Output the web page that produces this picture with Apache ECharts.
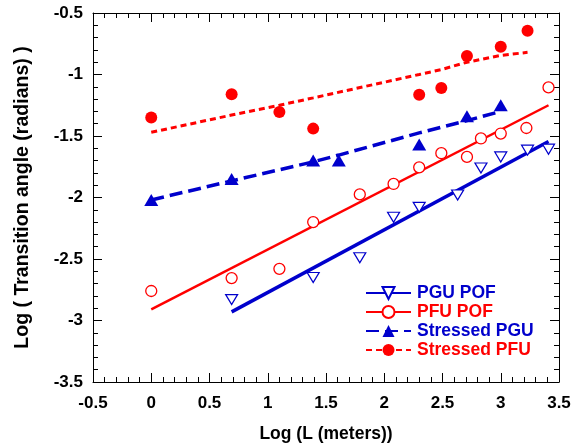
<!DOCTYPE html>
<html>
<head>
<meta charset="utf-8">
<script src="https://cdn.jsdelivr.net/npm/echarts/dist/echarts.min.js"></script>
<style>
  html, body { margin: 0; padding: 0; background: #fff; }
  #chart { width: 582px; height: 448px; }
</style>
</head>
<body>
<div id="chart"></div>
<script>
// colours
const BLUE = '#0000CC', RED = '#FF0000';
const FONT = 'Liberation Sans, Arial, sans-serif';

// axis ranges
const xRange = [-0.5, 3.5];
const yRange = [-3.5, -0.5];

// --- PGU POF (open inverted triangles + solid fit) ---
const pguPofX = [0.69, 1.39, 1.79, 2.08, 2.30, 2.63, 2.83, 3.00, 3.23, 3.41];
const pguPofY = [-2.83, -2.65, -2.49, -2.16, -2.08, -1.98, -1.76, -1.67, -1.615, -1.607];
const pguPofFitX = [0.69, 3.41];
const pguPofFitY = [-2.93, -1.545];

// --- PFU POF (open circles + solid fit) ---
const pfuPofX = [0, 0.69, 1.10, 1.39, 1.79, 2.08, 2.30, 2.49, 2.71, 2.83, 3.00, 3.22, 3.41];
const pfuPofY = [-2.76, -2.655, -2.58, -2.20, -1.975, -1.89, -1.755, -1.64, -1.67, -1.52, -1.48, -1.435, -1.105];
const pfuPofFitX = [0, 3.41];
const pfuPofFitY = [-2.91, -1.25];

// --- Stressed PGU (filled triangles + dashed fit) ---
const sPguX = [0, 0.69, 1.39, 1.61, 2.30, 2.71, 3.00];
const sPguY = [-2.02, -1.85, -1.70, -1.70, -1.57, -1.34, -1.25];
const sPguFitX = [0, 0.69, 1.39, 1.61, 2.30, 2.71, 3.00];
const sPguFitY = [-2.02, -1.865, -1.71, -1.655, -1.475, -1.375, -1.30];

// --- Stressed PFU (filled circles + dotted fit) ---
const sPfuX = [0, 0.69, 1.10, 1.39, 2.30, 2.49, 2.71, 3.00, 3.23];
const sPfuY = [-1.35, -1.16, -1.305, -1.44, -1.165, -1.11, -0.85, -0.775, -0.645];
const sPfuFitX = [0, 0.69, 1.10, 1.39, 2.30, 2.49, 2.71, 3.00, 3.23];
const sPfuFitY = [-1.47, -1.33, -1.25, -1.19, -1.00, -0.96, -0.90, -0.845, -0.82];

const legendNames = ['PGU POF', 'PFU POF', 'Stressed PGU', 'Stressed PFU'];
const legendColors = [BLUE, RED, BLUE, RED];

const pairs = (xs, ys) => xs.map((x, i) => [x, ys[i]]);

const labelStyle = { color: '#000', fontFamily: FONT, fontWeight: 'bold', fontSize: 17 };

function baseAxis(range, extra) {
  return Object.assign({
    type: 'value', min: range[0], max: range[1], interval: 0.5,
    axisLine: { onZero: false, lineStyle: { color: '#000', width: 1 } },
    splitLine: { show: false },
    axisTick: { inside: true, length: 9, lineStyle: { color: '#000' } },
    minorTick: { show: true, splitNumber: 5, length: 5, lineStyle: { color: '#000' } },
  }, extra);
}

function fitSeries(name, xs, ys, color, width, type, symbol, rotate) {
  return {
    name, type: 'line', data: pairs(xs, ys), showSymbol: false,
    symbol, symbolRotate: rotate || 0,
    itemStyle: { color }, lineStyle: { color, width, type }, z: 2,
  };
}

function pointSeries(name, xs, ys, symbol, size, item, rotate) {
  return {
    name, type: 'scatter', data: pairs(xs, ys), symbol, symbolSize: size,
    symbolRotate: rotate || 0, itemStyle: Object.assign({ opacity: 1 }, item), z: 3,
  };
}

const chart = echarts.init(document.getElementById('chart'), null, { renderer: 'canvas' });
chart.setOption({
  animation: false,
  grid: { left: 93, right: 23, top: 13, bottom: 62 },
  legend: {
    orient: 'vertical', left: 365, top: 284, padding: 0,
    itemWidth: 45, itemHeight: 15, itemGap: 1,
    textStyle: { fontFamily: FONT, fontWeight: 'bold', fontSize: 17.5, padding: [0, 0, 0, 1] },
    data: legendNames.map((n, i) => ({ name: n, textStyle: { color: legendColors[i] } })),
  },
  xAxis: [
    baseAxis(xRange, {
      position: 'bottom', axisLabel: Object.assign({ margin: 13 }, labelStyle),
      name: 'Log (L (meters))', nameLocation: 'middle', nameGap: 43,
      nameTextStyle: { color: '#000', fontFamily: FONT, fontWeight: 'bold', fontSize: 17.5 },
    }),
    baseAxis(xRange, { position: 'top', axisLabel: { show: false } }),
  ],
  yAxis: [
    baseAxis(yRange, {
      position: 'left', axisLabel: Object.assign({ margin: 10 }, labelStyle),
      name: 'Log ( Transition angle (radians) )', nameLocation: 'middle', nameGap: 60,
      nameTextStyle: { color: '#000', fontFamily: FONT, fontWeight: 'bold', fontSize: 19.5 },
    }),
    baseAxis(yRange, { position: 'right', axisLabel: { show: false } }),
  ],
  series: [
    fitSeries('PGU POF', pguPofFitX, pguPofFitY, BLUE, 3.5, 'solid', 'emptyTriangle', 180),
    pointSeries('PGU POF', pguPofX, pguPofY, 'triangle', [12, 10],
      { color: '#fff', borderColor: BLUE, borderWidth: 1.2 }, 180),

    fitSeries('PFU POF', pfuPofFitX, pfuPofFitY, RED, 2.5, 'solid', 'emptyCircle'),
    pointSeries('PFU POF', pfuPofX, pfuPofY, 'circle', 11,
      { color: '#fff', borderColor: RED, borderWidth: 1.3 }),

    fitSeries('Stressed PGU', sPguFitX, sPguFitY, BLUE, 3.5, [13, 6], 'triangle'),
    pointSeries('Stressed PGU', sPguX, sPguY, 'triangle', [14, 12], { color: BLUE }),

    fitSeries('Stressed PFU', sPfuFitX, sPfuFitY, RED, 3, [6, 4], 'circle'),
    pointSeries('Stressed PFU', sPfuX, sPfuY, 'circle', 12, { color: RED }),
  ],
});
</script>
</body>
</html>
